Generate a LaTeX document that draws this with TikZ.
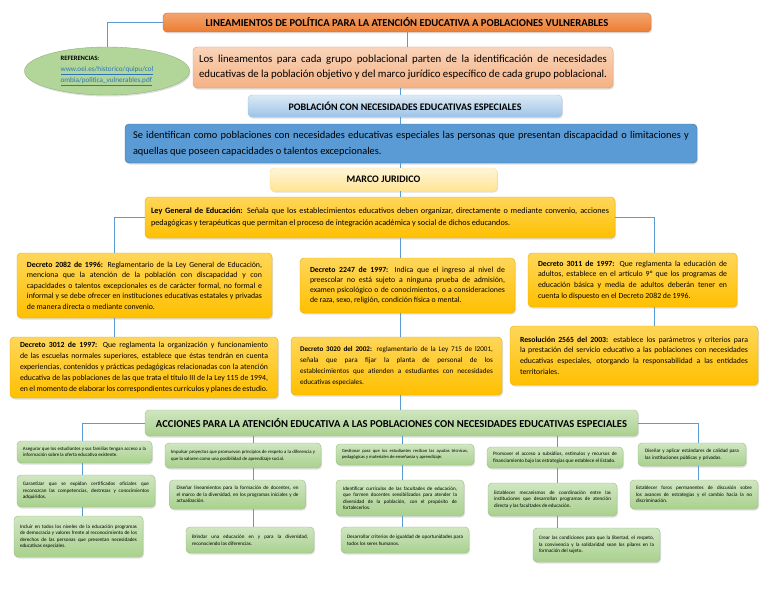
\documentclass[tikz,border=0pt]{standalone}
\usepackage{fontspec}
\setmainfont{Carlito}
\usetikzlibrary{shapes.geometric,shadows}
\definecolor{naranja}{HTML}{ED7D31}
\definecolor{salmon}{HTML}{F4B183}
\definecolor{celeste}{HTML}{9DC3E6}
\definecolor{azul}{HTML}{5B9BD5}
\definecolor{azulosc}{HTML}{41719C}
\definecolor{crema}{HTML}{FFD966}
\definecolor{oro}{HTML}{FFC000}
\definecolor{verde}{HTML}{A9D18E}
\definecolor{verdeosc}{HTML}{70AD47}
\definecolor{vinculo}{HTML}{2E75B6}
\newcommand{\fs}[2]{\fontsize{#1}{#2}\selectfont}
\begin{document}
\begin{tikzpicture}[x=1pt,y=-1pt,
 caja/.style={rounded corners=4pt,inner xsep=6pt,inner ysep=2pt,execute at begin node={\hyphenpenalty=10000\exhyphenpenalty=10000},drop shadow={shadow xshift=1pt,shadow yshift=-1.5pt,opacity=0.25}},
 titulo/.style={caja,draw=naranja!85!black,top color=naranja!70,bottom color=naranja,font=\bfseries\fs{10.6}{12},align=center},
 intro/.style={caja,draw=salmon!90!black,top color=salmon!55,bottom color=salmon,font=\fs{10.8}{15},align=justify},
 pob/.style={caja,draw=celeste,top color=celeste!35,bottom color=celeste,font=\bfseries\fs{10}{12},align=center},
 defi/.style={caja,inner xsep=8pt,draw=azulosc,fill=azul,font=\fs{10.4}{15.5},align=justify},
 marco/.style={caja,draw=crema!80,top color=crema!25,bottom color=crema!70,font=\bfseries\fs{10}{12},align=center},
 ley/.style={caja,draw=oro!90!black,top color=oro!65,bottom color=oro,font=\fs{8.2}{12},align=justify},
 decreto/.style={ley,inner xsep=10pt,font=\fs{7.8}{10.6}},
 acc/.style={caja,draw=verdeosc!70,top color=verde!55,bottom color=verde,font=\bfseries\fs{10.6}{12},align=center},
 accion/.style={caja,inner xsep=6pt,draw=verde!90!black,top color=verde!55,bottom color=verde,font=\fs{5.1}{6.5},align=justify},
 linea/.style={draw=azul,line width=0.8pt}]
\fill[white,use as bounding box] (0,0) rectangle (768,594);
\coordinate (kL) at (114,0);
\coordinate (kM) at (400,0);
\coordinate (kR) at (654,0);
\foreach \k/\x in {1/82,2/253,3/402,4/557,5/698} \coordinate (k\k) at (\x,0);

\node[titulo,minimum width=488,minimum height=19] (lin) at (407,22.5) {LINEAMIENTOS DE POLÍTICA PARA LA ATENCIÓN EDUCATIVA A POBLACIONES VULNERABLES};
\node[ellipse,draw=verde!85!black,fill=verde!90,drop shadow={shadow xshift=1pt,shadow yshift=-1.5pt,opacity=0.25},minimum width=165,minimum height=48,inner sep=0pt,align=left,font=\fs{7.2}{11}] (ref) at (107,71) {{\fs{6.6}{11}\textbf{REFERENCIAS:}}\\\textcolor{vinculo}{\underline{www.oei.es/historico/quipu/col}}\\\textcolor{vinculo}{\underline{ombia/politica\_vulnerables.pdf}}};
\node[intro,minimum width=420,minimum height=41,text width=408] (intro) at (403,67.5) {Los lineamentos para cada grupo poblacional parten de la identificación de necesidades educativas de la población objetivo y del marco jurídico específico de cada grupo poblacional.};
\node[pob,minimum width=314,minimum height=22] (pob) at (405,106) {POBLACIÓN CON NECESIDADES EDUCATIVAS ESPECIALES};
\node[defi,minimum width=572,minimum height=39,text width=556] (defi) at (411,143.5) {Se identifican como poblaciones con necesidades educativas especiales las personas que presentan discapacidad o limitaciones y aquellas que poseen capacidades o talentos excepcionales.};
\node[marco,minimum width=227,minimum height=23] (marco) at (383.5,179.5) {MARCO JURIDICO};
\node[ley,minimum width=470,minimum height=41,text width=458] (ley) at (380,217.5) {\textbf{Ley General de Educación:} Señala que los establecimientos educativos deben organizar, directamente o mediante convenio, acciones pedagógicas y terapéuticas que permitan el proceso de integración académica y social de dichos educandos.};

\node[decreto,minimum width=255,minimum height=65,text width=235] (d2082) at (144.5,285.5) {\textbf{Decreto 2082 de 1996:} Reglamentario de la Ley General de Educación, menciona que la atención de la población con discapacidad y con capacidades o talentos excepcionales es de carácter formal, no formal e informal y se debe ofrecer en instituciones educativas estatales y privadas de manera directa o mediante convenio.};
\node[decreto,minimum width=215,minimum height=55,text width=195,font=\fs{7.8}{10}] (d2247) at (407.5,285.5) {\textbf{Decreto 2247 de 1997:} Indica que el ingreso al nivel de preescolar no está sujeto a ninguna prueba de admisión, examen psicológico o de conocimientos, o a consideraciones de raza, sexo, religión, condición física o mental.};
\node[decreto,minimum width=209,minimum height=54,text width=189] (d3011) at (632.5,280) {\textbf{Decreto 3011 de 1997:} Que reglamenta la educación de adultos, establece en el artículo 9º que los programas de educación básica y media de adultos deberán tener en cuenta lo dispuesto en el Decreto 2082 de 1996.};
\node[decreto,minimum width=268,minimum height=61,text width=248,font=\fs{7.8}{11}] (d3012) at (144,367.5) {\textbf{Decreto 3012 de 1997:} Que reglamenta la organización y funcionamiento de las escuelas normales superiores, establece que éstas tendrán en cuenta experiencias, contenidos y prácticas pedagógicas relacionadas con la atención educativa de las poblaciones de las que trata el título III de la Ley 115 de 1994, en el momento de elaborar los correspondientes currículos y planes de estudio.};
\node[decreto,minimum width=211,minimum height=58,text width=193,inner xsep=9pt,font=\fs{7.15}{11}] (d3020) at (396.5,366) {\textbf{Decreto 3020 del 2002:} reglamentario de la Ley 715 de l2001,\linebreak señala que para fijar la planta de personal de los\linebreak establecimientos que atienden a estudiantes con necesidades educativas especiales.};
\node[decreto,minimum width=248,minimum height=59,text width=228] (r2565) at (634,355.5) {\textbf{Resolución 2565 del 2003:} establece los parámetros y criterios para la prestación del servicio educativo a las poblaciones con necesidades educativas especiales, otorgando la responsabilidad a las entidades territoriales.};

\node[acc,minimum width=493,minimum height=26] (acc) at (391.5,423) {ACCIONES PARA LA ATENCIÓN EDUCATIVA A LAS POBLACIONES CON NECESIDADES EDUCATIVAS ESPECIALES};

\node[accion,minimum width=135,minimum height=22,text width=123,font=\fs{4.9}{6.5}] (c1-1) at (84.5,452) {Asegurar que los estudiantes y sus familias tengan acceso a la información sobre la oferta educativa existente.};
\node[accion,minimum width=138,minimum height=32,text width=126] (c1-2) at (86,491) {Garantizar que se expidan certificados oficiales que reconozcan las competencias, destrezas y conocimientos adquiridos.};
\node[accion,minimum width=129,minimum height=41,text width=117] (c1-3) at (78.5,536.5) {Incluir en todos los niveles de la educación programas de democracia y valores frente al reconocimiento de los derechos de las personas que presentan necesidades educativas especiales.};
\node[accion,minimum width=156,minimum height=25,text width=144,font=\fs{4.8}{6.5}] (c2-1) at (243,455.5) {Impulsar proyectos que promuevan principios de respeto a la diferencia y que la valoren como una posibilidad de aprendizaje social.};
\node[accion,minimum width=136,minimum height=29,text width=122] (c2-2) at (237.5,494.5) {Diseñar lineamientos para la formación de docentes, en el marco de la diversidad, en los programas iniciales y de actualización.};
\node[accion,minimum width=128,minimum height=26,text width=116] (c2-3) at (250,540) {Brindar una educación en y para la diversidad, reconociendo las diferencias.};
\node[accion,minimum width=138,minimum height=21,text width=126,font=\fs{4.6}{6.5}] (c3-1) at (405,454.5) {Gestionar para que los estudiantes reciban las ayudas técnicas, pedagógicas y materiales de enseñanza y aprendizaje.};
\node[accion,minimum width=128,minimum height=36,text width=114] (c3-2) at (400,498) {Identificar currículos de las facultades de educación, que formen docentes sensibilizados para atender la diversidad de la población, con el propósito de fortalecerlos.};
\node[accion,minimum width=128,minimum height=26,text width=116] (c3-3) at (405,540) {Desarrollar criterios de igualdad de oportunidades para todos los seres humanos.};
\node[accion,minimum width=136,minimum height=21,text width=124] (c4-1) at (555,457.5) {Promover el acceso a subsidios, estímulos y recursos de financiamiento bajo las estrategias que establece el Estado.};
\node[accion,minimum width=129,minimum height=33,text width=117] (c4-2) at (552.5,499.5) {Establecer mecanismos de coordinación entre las instituciones que desarrollan programas de atención directa y las facultades de educación.};
\node[accion,minimum width=127,minimum height=34,text width=115] (c4-3) at (596.5,545) {Crear las condiciones para que la libertad, el respeto, la convivencia y la solidaridad sean los pilares en la formación del sujeto.};
\node[accion,minimum width=108,minimum height=23,text width=94,align=left] (c5-1) at (692,454.5) {Diseñar y aplicar estándares de calidad para las instituciones públicas y privadas.};
\node[accion,minimum width=128,minimum height=29,text width=116] (c5-2) at (694,494.5) {Establecer foros permanentes de discusión sobre los avances de estrategias y el cambio hacia la no discriminación.};

\draw[linea] (lin.west) -| (ref.north);
\draw[linea] (lin.south) -- (intro.north -| lin.south);
\draw[linea] (intro.south -| kM) -- (pob.north -| kM);
\draw[linea] (pob.south -| kM) -- (defi.north -| kM);
\draw[linea] (defi.south -| kM) -- (marco.north -| kM);
\draw[linea] (marco.south -| kM) -- (ley.north -| kM);
\draw[linea] (ley.west) -| (d2082.north -| kL);
\draw[linea] (ley.east) -| (d3011.north -| kR);
\draw[linea] (ley.south -| kM) -- (d2247.north -| kM);
\draw[linea] (d2082.south -| kL) -- (d3012.north -| kL);
\draw[linea] (d2247.south -| kM) -- (d3020.north -| kM);
\draw[linea] (d3011.south -| kR) -- (r2565.north -| kR);
\draw[linea] (d3020.south -| kM) -- (acc.north -| kM);
\draw[linea] (acc.west) -| (c1-1.north -| k1);
\draw[linea] (acc.east) -| (c5-1.north -| k5);
\foreach \k in {2,3,4} \draw[linea] (acc.south -| k\k) -- (c\k-1.north -| k\k);
\foreach \k in {1,...,5} \draw[linea] (c\k-1.south -| k\k) -- (c\k-2.north -| k\k);
\foreach \k in {1,...,4} \draw[linea] (c\k-2.south -| k\k) -- (c\k-3.north -| k\k);
\end{tikzpicture}
\end{document}
